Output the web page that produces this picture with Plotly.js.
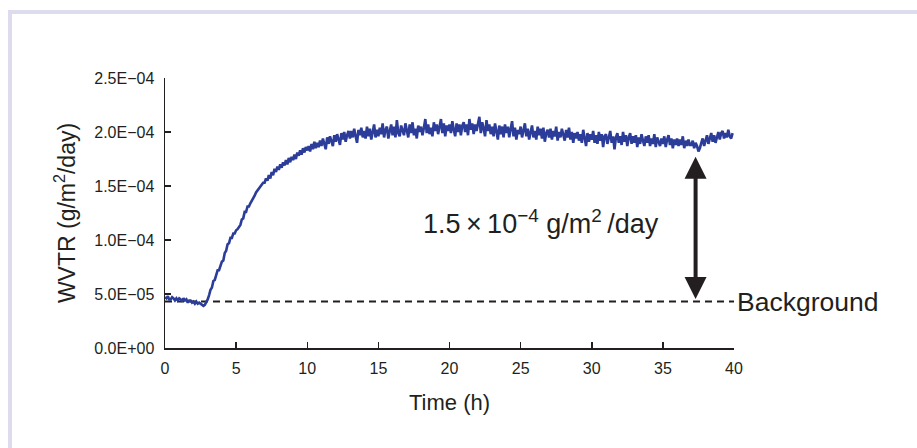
<!DOCTYPE html>
<html>
<head>
<meta charset="utf-8">
<script src="https://cdn.plot.ly/plotly-3.0.1.min.js"></script>
<style>
  html, body { margin: 0; padding: 0; background: #ffffff; }
  #frame { position: absolute; left: 8px; top: 10px; width: 909px; height: 438px;
           border-top: 4px solid #dddcee; border-left: 4px solid #dddcee; box-sizing: border-box; }
  #chart { position: absolute; left: 0; top: 0; width: 917px; height: 448px; }
</style>
</head>
<body>
<div id="frame"></div>
<div id="chart"></div>
<script>
// Time sampling of the measurement (h)
const timeStart = 0;
const timeStep = 0.1;

// WVTR readings in units of 1e-6 g/m2/day, one row per hour (10 readings per hour)
const wvtrMicro = [
  47,46,48,45,45,47,46,44,46,44,
  46,45,43,46,44,45,42,44,44,42,
  43,41,43,41,42,41,40,39,40,42,
  45,49,54,56,62,63,68,72,72,77,
  80,81,88,90,96,97,102,102,106,106,
  109,110,112,114,119,120,126,126,131,131,
  134,136,139,141,144,146,148,150,151,153,
  153,157,155,160,157,163,160,166,163,168,
  165,170,167,172,169,174,170,176,172,177,
  174,179,175,181,178,183,179,185,181,186,
  183,187,182,189,184,191,185,190,186,192,
  187,194,189,184,195,189,196,190,187,197,
  191,198,192,188,199,193,200,191,197,201,
  194,201,195,203,196,190,202,197,204,195,
  201,194,205,196,203,193,200,207,195,202,
  196,204,198,208,195,202,205,194,201,207,
  197,205,195,211,199,196,206,201,197,208,
  200,195,207,199,209,197,203,194,206,200,
  205,197,204,212,199,207,198,204,196,209,
  201,207,198,205,212,199,208,196,206,201,
  207,199,210,202,196,208,200,207,197,206,
  209,200,207,197,212,202,208,198,207,201,
  208,214,199,209,203,196,211,201,207,198,
  205,196,208,200,193,206,198,205,195,207,
  199,205,195,203,210,196,204,193,202,198,
  205,195,202,208,196,203,193,201,206,195,
  201,193,205,197,203,194,204,191,199,202,
  195,203,193,201,196,205,192,200,195,203,
  197,192,202,195,204,193,200,190,199,194,
  200,192,198,190,202,194,187,199,191,198,
  193,201,190,197,189,200,192,198,186,196,
  198,189,197,201,190,196,184,195,199,190,
  196,188,200,191,197,187,195,199,189,196,
  190,197,186,195,189,198,192,187,196,190,
  197,187,194,189,198,186,195,191,187,194,
  189,196,186,193,197,188,194,185,193,188,
  194,187,193,188,196,185,192,187,193,188,
  188,192,185,190,187,182,185,190,194,187,
  193,197,189,195,199,191,197,190,196,200,
  193,199,201,194,199,195,202,196,194,199
];

// Background level and the span shown by the double arrow
const backgroundLevel = 4.3e-5;
const backgroundSpan = [0, 40];
const arrowTime = 37.3;
const arrowTop = 1.77e-4;
const arrowBottom = 4.4e-5;
const deltaLabel = '1.5\u2009\u00d7\u200910<sup>\u22124</sup> g/m<sup>2</sup>\u2009/day';
const deltaLabelPos = [26.4, 1.17e-4];
const backgroundLabel = 'Background';

// Axis ticks
const xTicks = [0, 5, 10, 15, 20, 25, 30, 35, 40];
const yTicks = [0, 5e-5, 1e-4, 1.5e-4, 2e-4, 2.5e-4];
const yTickText = ['0.0E+00', '5.0E\u221205', '1.0E\u221204', '1.5E\u221204', '2.0E\u221204', '2.5E\u221204'];

const times = wvtrMicro.map((_, i) => +(timeStart + i * timeStep).toFixed(2));
const wvtr = wvtrMicro.map(v => v * 1e-6);

const FONT = 'Arial, "Liberation Sans", sans-serif';
const INK = '#231f20';

const traces = [
  {
    x: backgroundSpan, y: [backgroundLevel, backgroundLevel],
    mode: 'lines', line: { color: INK, width: 2, dash: '7px,5px' },
    hoverinfo: 'skip', showlegend: false, cliponaxis: false
  },
  {
    x: times, y: wvtr, mode: 'lines',
    line: { color: '#2b3d98', width: 2.6 },
    showlegend: false
  }
];

const layout = {
  width: 917, height: 448,
  paper_bgcolor: 'rgba(0,0,0,0)', plot_bgcolor: 'rgba(0,0,0,0)',
  margin: { l: 165, r: 183, t: 78, b: 100 },
  font: { family: FONT, color: INK },
  showlegend: false,
  xaxis: {
    range: [0, 40], tickvals: xTicks, ticktext: xTicks.map(String),
    ticks: 'inside', ticklen: 6, tickwidth: 1.5, tickcolor: INK,
    showline: true, linecolor: INK, linewidth: 1.5, showgrid: false, zeroline: false,
    tickfont: { size: 16, family: FONT, color: INK },
    ticklabelstandoff: 5,
    title: { text: 'Time (h)', font: { size: 22, family: FONT, color: INK }, standoff: 19 },
    automargin: false,
    fixedrange: true
  },
  yaxis: {
    range: [0, 2.5e-4], tickvals: yTicks, ticktext: yTickText,
    ticks: 'inside', ticklen: 6, tickwidth: 1.5, tickcolor: INK,
    showline: true, linecolor: INK, linewidth: 1.5, showgrid: false, zeroline: false,
    tickfont: { size: 16, family: FONT, color: INK },
    ticklabelstandoff: 6,
    title: { text: 'WVTR (g/m<sup>2</sup>/day)', font: { size: 23, family: FONT, color: INK }, standoff: 12 },
    automargin: false,
    fixedrange: true
  },
  annotations: [
    {
      x: arrowTime, y: arrowTop, ax: arrowTime, ay: arrowBottom,
      xref: 'x', yref: 'y', axref: 'x', ayref: 'y',
      text: '', showarrow: true, arrowside: 'end+start',
      arrowhead: 2, startarrowhead: 2, arrowsize: 1.1, startarrowsize: 1.1,
      arrowwidth: 4, arrowcolor: INK
    },
    {
      x: deltaLabelPos[0], y: deltaLabelPos[1], xref: 'x', yref: 'y',
      text: deltaLabel, showarrow: false,
      font: { size: 27, family: FONT, color: INK }
    },
    {
      x: backgroundSpan[1], y: backgroundLevel, xref: 'x', yref: 'y',
      text: backgroundLabel, showarrow: false, xanchor: 'left', xshift: 1,
      font: { size: 26.5, family: FONT, color: INK }
    }
  ]
};

Plotly.newPlot('chart', traces, layout, { displayModeBar: false, staticPlot: true });
</script>
</body>
</html>
